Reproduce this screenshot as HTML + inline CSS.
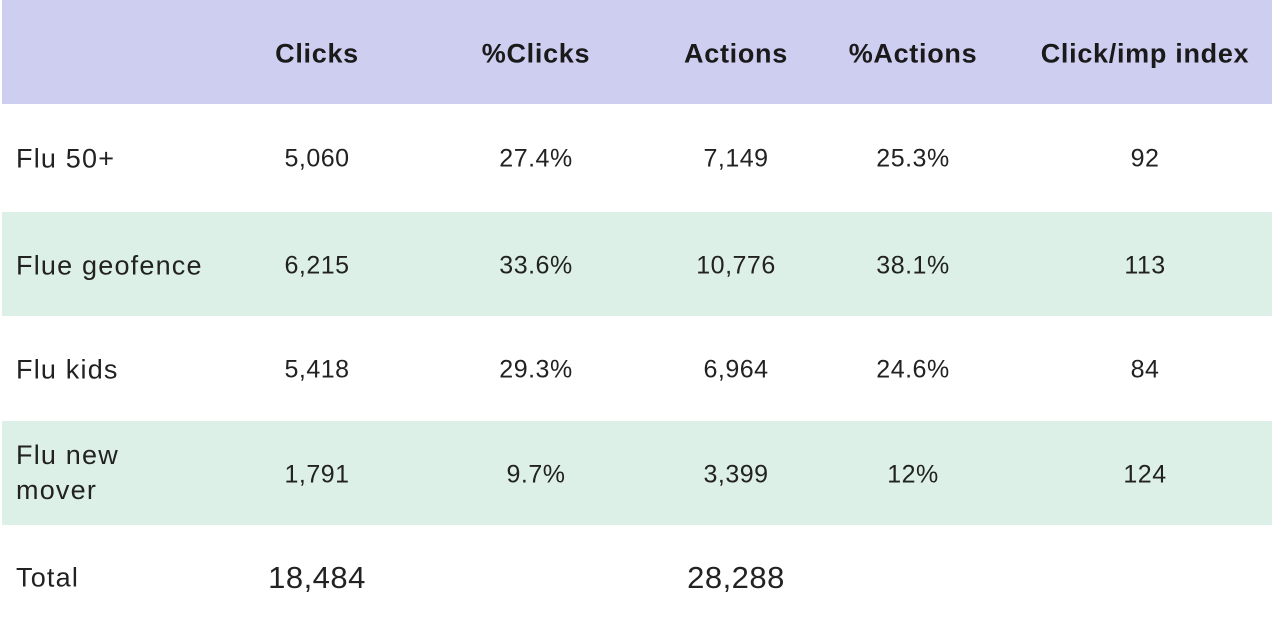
<!DOCTYPE html>
<html><head><meta charset="utf-8"><style>
body{margin:0;width:1272px;height:628px;background:#fff;font-family:"Liberation Sans",sans-serif;color:#222;position:relative;overflow:hidden}
.band{position:absolute;left:2px;width:1270px}
.t{position:absolute;transform:translate(-50%,-50%);white-space:nowrap;font-size:25px;letter-spacing:0.5px}
.h{font-weight:bold;font-size:27px;letter-spacing:0.7px;color:#1a1a1a}
.l{position:absolute;left:16px;transform:translateY(-50%);font-size:27px;letter-spacing:1.2px;line-height:35px}
</style></head><body>
<div class="band" style="top:0;height:104px;background:#cdcef0"></div>
<div class="band" style="top:212px;height:104px;background:#ddf0e7"></div>
<div class="band" style="top:421px;height:104px;background:#ddf0e7"></div>
<div id="tbl"></div>
<script>
const cols=["Clicks","%Clicks","Actions","%Actions","Click/imp index"];
const colX=[317,536,736,913,1145];
const rowLabels=["Flu 50+","Flue geofence","Flu kids","Flu new<br>mover"];
const rowY=[159,266,370,473];
const vals=[["5,060","27.4%","7,149","25.3%","92"],["6,215","33.6%","10,776","38.1%","113"],["5,418","29.3%","6,964","24.6%","84"],["1,791","9.7%","3,399","12%","124"]];
const totals=["18,484","","28,288","",""];
const root=document.getElementById('tbl');
function add(cls,html,x,y,name,extra){const d=document.createElement('div');d.className=cls;d.innerHTML=html;if(x!==null)d.style.left=x+'px';d.style.top=y+'px';if(extra)d.style.cssText+=extra;


root.appendChild(d);}
cols.forEach((c,i)=>add('t h',c,colX[i],54,'header-'+i));
rowLabels.forEach((r,j)=>{add('l',r,null,rowY[j],'row-label-'+j);vals[j].forEach((v,i)=>add('t',v,colX[i],j===3?475:rowY[j],'cell-'+j+'-'+i));});
add('l','Total',null,578,'total-label');
totals.forEach((v,i)=>{if(v)add('t',v,colX[i],578,'total-'+i,'font-size:31px');});
</script>
</body></html>
